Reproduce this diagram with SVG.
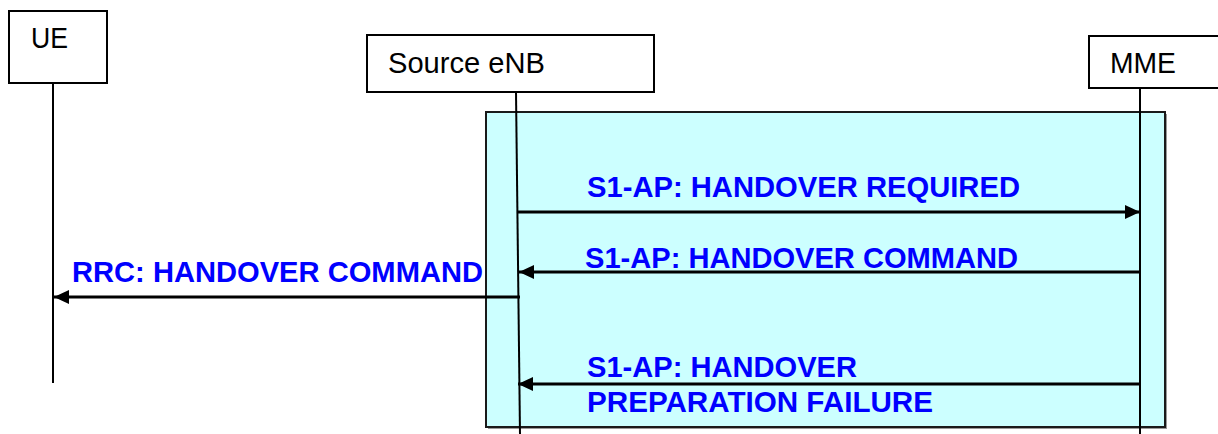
<svg xmlns="http://www.w3.org/2000/svg" width="1218" height="434" viewBox="0 0 1218 434">
  <style>
    .box { fill: #ffffff; stroke: #000000; stroke-width: 2; }
    .lbl { font-family: "Liberation Sans", Arial, sans-serif; font-size: 29px; fill: #000000; }
    .life { stroke: #000000; stroke-width: 2; fill: none; }
    .msg { stroke: #000000; stroke-width: 3; fill: none; }
    .mtxt { font-family: "Liberation Sans", Arial, sans-serif; font-size: 30px; font-weight: bold; fill: #0000ff; }
    .frame { fill: #ccffff; stroke: #1a1a1a; stroke-width: 2; }
  </style>
  <defs>
    <marker id="ah" viewBox="0 0 15 14" refX="15" refY="7" markerWidth="15" markerHeight="14" markerUnits="userSpaceOnUse" orient="auto">
      <path d="M0,0 L15,7 L0,14 Z" fill="#000000"/>
    </marker>
  </defs>

  <g id="frame">
    <rect x="488" y="114" width="679" height="315" fill="#555555" opacity="0.6"/>
    <rect class="frame" x="486" y="112" width="679" height="315"/>
  </g>

  <g id="lifelines">
    <line class="life" x1="53" y1="83" x2="53" y2="383"/>
    <line class="life" x1="516" y1="92" x2="520" y2="434"/>
    <line class="life" x1="1140" y1="88" x2="1140" y2="434"/>
  </g>

  <g id="node-ue">
    <rect class="box" x="9" y="11" width="98" height="72"/>
    <text class="lbl" x="31" y="48" textLength="37" lengthAdjust="spacingAndGlyphs">UE</text>
  </g>
  <g id="node-enb">
    <rect class="box" x="367" y="35" width="287" height="57"/>
    <text class="lbl" x="388" y="73" textLength="157" lengthAdjust="spacingAndGlyphs">Source eNB</text>
  </g>
  <g id="node-mme">
    <rect class="box" x="1089" y="36" width="140" height="52"/>
    <text class="lbl" x="1110" y="73" textLength="66" lengthAdjust="spacingAndGlyphs">MME</text>
  </g>

  <g id="connectors">
    <line class="msg" x1="517" y1="212" x2="1140" y2="212" marker-end="url(#ah)"/>
    <line class="msg" x1="1140" y1="272" x2="519" y2="272" marker-end="url(#ah)"/>
    <line class="msg" x1="520" y1="297" x2="54" y2="297" marker-end="url(#ah)"/>
    <line class="msg" x1="1140" y1="384" x2="518" y2="384" marker-end="url(#ah)"/>
  </g>

  <g id="labels">
    <text class="mtxt" x="587" y="197" textLength="433" lengthAdjust="spacingAndGlyphs">S1-AP: HANDOVER REQUIRED</text>
    <text class="mtxt" x="585" y="268" textLength="433" lengthAdjust="spacingAndGlyphs">S1-AP: HANDOVER COMMAND</text>
    <text class="mtxt" x="72" y="282" textLength="411" lengthAdjust="spacingAndGlyphs">RRC: HANDOVER COMMAND</text>
    <text class="mtxt" x="587" y="377" textLength="270" lengthAdjust="spacingAndGlyphs">S1-AP: HANDOVER</text>
    <text class="mtxt" x="587" y="412" textLength="346" lengthAdjust="spacingAndGlyphs">PREPARATION FAILURE</text>
  </g>
</svg>
